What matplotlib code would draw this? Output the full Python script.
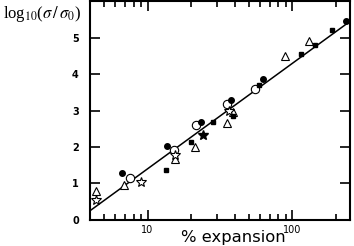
import matplotlib
matplotlib.use("Agg")
import matplotlib.pyplot as plt
from matplotlib.ticker import LogLocator, NullFormatter, FixedLocator, FixedFormatter

plt.rcParams["mathtext.fontset"] = "stix"

# data: (% expansion, log10(sigma/sigma0))
fc_x = [6.65, 13.6, 23.2, 37.8, 62.5, 233]
fc_y = [1.28, 2.03, 2.69, 3.30, 3.87, 5.46]

oc_x = [7.62, 15.3, 21.6, 35.3, 54.8]
oc_y = [1.15, 1.92, 2.60, 3.19, 3.60]

tri_x = [4.43, 6.93, 15.5, 21.4, 35.2, 38.8, 88.5, 130]
tri_y = [0.80, 0.96, 1.66, 2.00, 2.66, 2.95, 4.51, 4.92]

sq_x = [13.5, 20.0, 28.2, 39.0, 58.7, 114, 142.5, 188]
sq_y = [1.37, 2.14, 2.69, 2.86, 3.71, 4.55, 4.80, 5.21]

star_x = [4.43, 8.94, 15.5, 36.5]
star_y = [0.55, 1.05, 1.78, 3.00]

fstar_x = [24.0]
fstar_y = [2.32]

fit_x = [4, 250]
fit_y = [0.25, 5.45]

fig = plt.figure(figsize=(3.54, 2.46), dpi=100)
ax = fig.add_axes([0.254, 0.106, 0.735, 0.889])

ax.plot(fit_x, fit_y, color="black", lw=1.1, zorder=2)
ax.plot(tri_x, tri_y, "^", mfc="white", mec="black", mew=0.8, ms=6, ls="none", zorder=3)
ax.plot(oc_x, oc_y, "o", mfc="white", mec="black", mew=0.8, ms=6, ls="none", zorder=3)
ax.plot(star_x, star_y, "*", mfc="white", mec="black", mew=0.8, ms=7.5, ls="none", zorder=3)
ax.plot(fstar_x, fstar_y, "*", mfc="black", mec="black", ms=7, ls="none", zorder=4)
ax.plot(fc_x, fc_y, "o", color="black", ms=4, ls="none", zorder=4)
ax.plot(sq_x, sq_y, "s", color="black", ms=3.5, ls="none", zorder=4)

ax.set_xscale("log")
ax.set_xlim(4, 250)
ax.set_ylim(0, 6)

ax.xaxis.set_major_locator(FixedLocator([10, 100]))
ax.xaxis.set_major_formatter(FixedFormatter(["10", "100"]))
ax.xaxis.set_minor_locator(LogLocator(base=10, subs=range(2, 10)))
ax.xaxis.set_minor_formatter(NullFormatter())
ax.set_yticks([0, 1, 2, 3, 4, 5])

for s in ax.spines.values():
    s.set_linewidth(1.5)

ax.tick_params(which="both", direction="in", top=True, right=True, width=1.2)
ax.tick_params(which="major", length=7)
ax.tick_params(which="minor", length=4)
ax.tick_params(axis="x", labelsize=7, pad=4)
ax.tick_params(axis="y", labelsize=7, pad=8)
for lab in ax.get_yticklabels():
    lab.set_fontweight("bold")

fig.text(0.511, 0.035, "% expansion", fontsize=11.8, ha="left", va="center")
fig.text(0.008, 0.945, r"log$_{10}$($\sigma\,/\,\sigma_0$)", fontsize=12,
         family="Liberation Serif", ha="left", va="center")

fig.savefig("out.png", dpi=100)
